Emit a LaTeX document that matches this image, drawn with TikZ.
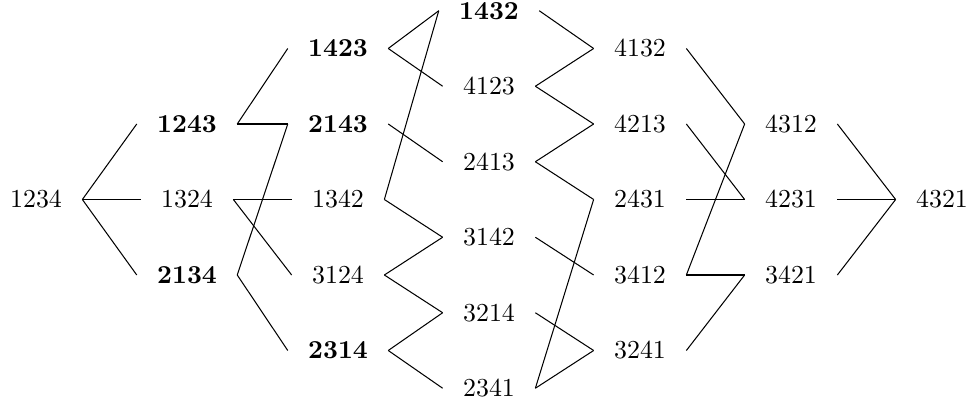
\documentclass[tikz,border=0pt]{standalone}
\begin{document}
\begin{tikzpicture}[x=0.3861pt,y=-0.3861pt,
  perm/.style={inner xsep=7.7pt, inner ysep=0pt},
  bperm/.style={perm, font=\bfseries},
  edge/.style={line width=0.4pt}]
\useasboundingbox (0,0) rectangle (972,407);
% level 0
\node[perm] (p1234) at (36,199.5) {1234};
% level 1
\node[bperm] (p1243) at (187,124) {1243};
\node[perm] (p1324) at (187,199.5) {1324};
\node[bperm] (p2134) at (187,275) {2134};
% level 2
\node[bperm] (p1423) at (338,48.5) {1423};
\node[bperm] (p2143) at (338,124) {2143};
\node[perm] (p1342) at (338,199.5) {1342};
\node[perm] (p3124) at (338,275) {3124};
\node[bperm] (p2314) at (338,350.5) {2314};
% level 3
\node[bperm] (p1432) at (489,10.75) {1432};
\node[perm] (p4123) at (489,86.25) {4123};
\node[perm] (p2413) at (489,161.75) {2413};
\node[perm] (p3142) at (489,237.25) {3142};
\node[perm] (p3214) at (489,312.75) {3214};
\node[perm] (p2341) at (489,388.25) {2341};
% level 4
\node[perm] (p4132) at (640,48.5) {4132};
\node[perm] (p4213) at (640,124) {4213};
\node[perm] (p2431) at (640,199.5) {2431};
\node[perm] (p3412) at (640,275) {3412};
\node[perm] (p3241) at (640,350.5) {3241};
% level 5
\node[perm] (p4312) at (791,124) {4312};
\node[perm] (p4231) at (791,199.5) {4231};
\node[perm] (p3421) at (791,275) {3421};
% level 6
\node[perm] (p4321) at (942,199.5) {4321};
% edges
\foreach \a/\b in {1234/1243,1234/1324,1234/2134,
  1243/1423,1243/2143,1324/1342,1324/3124,2134/2143,2134/2314,
  1423/1432,1423/4123,2143/2413,1342/1432,1342/3142,3124/3142,3124/3214,2314/3214,2314/2341,
  1432/4132,4123/4132,4123/4213,2413/4213,2413/2431,3142/3412,3214/3241,2341/2431,2341/3241,
  4132/4312,4213/4231,2431/4231,3412/4312,3412/3421,3241/3421,
  4312/4321,4231/4321,3421/4321}
  \draw[edge] (p\a.east) -- (p\b.west);
\end{tikzpicture}
\end{document}
